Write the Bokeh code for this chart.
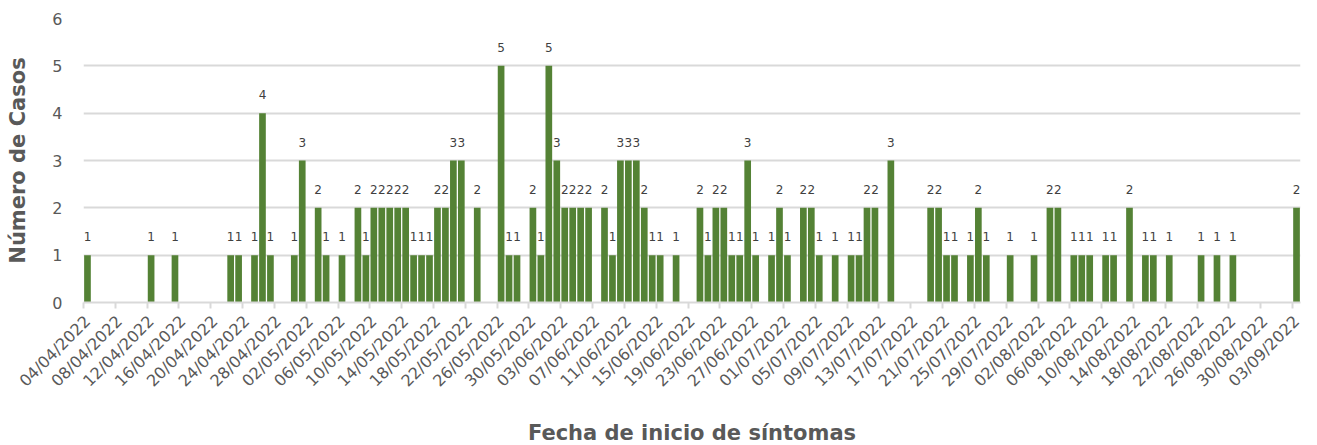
import math
import pandas as pd
from bokeh.plotting import figure
from bokeh.models import ColumnDataSource, FixedTicker, LabelSet, Range1d
from bokeh.core.properties import value
from bokeh.embed import file_html
from bokeh.resources import INLINE

start_date = "04/04/2022"
end_date = "03/09/2022"

dates = [
    "04/04/2022", "12/04/2022", "15/04/2022", "22/04/2022", "23/04/2022", "25/04/2022",
    "26/04/2022", "27/04/2022", "30/04/2022", "01/05/2022", "03/05/2022", "04/05/2022",
    "06/05/2022", "08/05/2022", "09/05/2022", "10/05/2022", "11/05/2022", "12/05/2022",
    "13/05/2022", "14/05/2022", "15/05/2022", "16/05/2022", "17/05/2022", "18/05/2022",
    "19/05/2022", "20/05/2022", "21/05/2022", "23/05/2022", "26/05/2022", "27/05/2022",
    "28/05/2022", "30/05/2022", "31/05/2022", "01/06/2022", "02/06/2022", "03/06/2022",
    "04/06/2022", "05/06/2022", "06/06/2022", "08/06/2022", "09/06/2022", "10/06/2022",
    "11/06/2022", "12/06/2022", "13/06/2022", "14/06/2022", "15/06/2022", "17/06/2022",
    "20/06/2022", "21/06/2022", "22/06/2022", "23/06/2022", "24/06/2022", "25/06/2022",
    "26/06/2022", "27/06/2022", "29/06/2022", "30/06/2022", "01/07/2022", "03/07/2022",
    "04/07/2022", "05/07/2022", "07/07/2022", "09/07/2022", "10/07/2022", "11/07/2022",
    "12/07/2022", "14/07/2022", "19/07/2022", "20/07/2022", "21/07/2022", "22/07/2022",
    "24/07/2022", "25/07/2022", "26/07/2022", "29/07/2022", "01/08/2022", "03/08/2022",
    "04/08/2022", "06/08/2022", "07/08/2022", "08/08/2022", "10/08/2022", "11/08/2022",
    "13/08/2022", "15/08/2022", "16/08/2022", "18/08/2022", "22/08/2022", "24/08/2022",
    "26/08/2022", "03/09/2022",
]
cases = [
    1, 1, 1, 1, 1, 1,
    4, 1, 1, 3, 2, 1,
    1, 2, 1, 2, 2, 2,
    2, 2, 1, 1, 1, 2,
    2, 3, 3, 2, 5, 1,
    1, 2, 1, 5, 3, 2,
    2, 2, 2, 2, 1, 3,
    3, 3, 2, 1, 1, 1,
    2, 1, 2, 2, 1, 1,
    3, 1, 1, 2, 1, 2,
    2, 1, 1, 1, 1, 2,
    2, 3, 2, 2, 1, 1,
    1, 2, 1, 1, 1, 2,
    2, 1, 1, 1, 1, 1,
    2, 1, 1, 1, 1, 1,
    1, 2,
]

tick_labels = [
    "04/04/2022", "08/04/2022", "12/04/2022", "16/04/2022", "20/04/2022", "24/04/2022",
    "28/04/2022", "02/05/2022", "06/05/2022", "10/05/2022", "14/05/2022", "18/05/2022",
    "22/05/2022", "26/05/2022", "30/05/2022", "03/06/2022", "07/06/2022", "11/06/2022",
    "15/06/2022", "19/06/2022", "23/06/2022", "27/06/2022", "01/07/2022", "05/07/2022",
    "09/07/2022", "13/07/2022", "17/07/2022", "21/07/2022", "25/07/2022", "29/07/2022",
    "02/08/2022", "06/08/2022", "10/08/2022", "14/08/2022", "18/08/2022", "22/08/2022",
    "26/08/2022", "30/08/2022", "03/09/2022",
]

FONT = "DejaVu Sans"
GREY = "#595959"

t0 = pd.to_datetime(start_date, format="%d/%m/%Y")
t1 = pd.to_datetime(end_date, format="%d/%m/%Y")
n_days = (t1 - t0).days

day_x = [(pd.to_datetime(d, format="%d/%m/%Y") - t0).days for d in dates]
tick_x = [(pd.to_datetime(d, format="%d/%m/%Y") - t0).days for d in tick_labels]

src = ColumnDataSource(dict(x=day_x, y=cases, lab=[str(c) for c in cases]))

p = figure(frame_width=1217, frame_height=284, output_backend="svg", toolbar_location=None,
           x_range=Range1d(-0.5, n_days + 0.5), y_range=Range1d(0, 6),
           min_border_left=83, min_border_right=17, min_border_top=18, min_border_bottom=20)
p.outline_line_color = None
p.background_fill_color = "white"
p.border_fill_color = "white"

p.vbar(x="x", top="y", width=0.84, source=src, fill_color="#548235", line_color=None)

labels = LabelSet(x="x", y="y", text="lab", source=src, y_offset=14,
                  text_align="center", text_baseline="bottom",
                  text_font_size="12px", text_color="#404040", text_font=value(FONT))
p.add_layout(labels)

# x axis
p.xaxis.ticker = FixedTicker(ticks=tick_x,
                             minor_ticks=[v - 0.5 for v in tick_x])
p.xaxis.major_label_overrides = {x: s for x, s in zip(tick_x, tick_labels)}
p.xaxis.major_label_orientation = math.pi / 4
p.xaxis.major_tick_line_color = None
p.xaxis.major_tick_out = 6
p.xaxis.major_tick_in = 0
p.xaxis.minor_tick_line_color = "#d9d9d9"
p.xaxis.minor_tick_line_width = 2
p.xaxis.minor_tick_out = 6
p.xaxis.minor_tick_in = 0
p.xaxis.axis_line_color = "#d9d9d9"
p.xaxis.axis_line_width = 2
p.xaxis.major_label_text_font = FONT
p.xaxis.major_label_text_font_size = "16px"
p.xaxis.major_label_text_color = GREY
p.xaxis.major_label_standoff = 10
p.xaxis.axis_label = "Fecha de inicio de síntomas"
p.xaxis.axis_label_text_font = FONT
p.xaxis.axis_label_text_font_size = "21px"
p.xaxis.axis_label_text_font_style = "bold"
p.xaxis.axis_label_text_color = GREY
p.xaxis.axis_label_standoff = 21
p.xgrid.grid_line_color = None

# y axis
p.yaxis.ticker = FixedTicker(ticks=[0, 1, 2, 3, 4, 5, 6])
p.yaxis.axis_line_color = None
p.yaxis.major_tick_line_color = None
p.yaxis.major_tick_out = 0
p.yaxis.minor_tick_line_color = None
p.yaxis.major_label_text_font = FONT
p.yaxis.major_label_text_font_size = "16px"
p.yaxis.major_label_text_color = GREY
p.yaxis.major_label_standoff = 21
p.yaxis.axis_label = "Número de Casos"
p.yaxis.axis_label_text_font = FONT
p.yaxis.axis_label_text_font_size = "21px"
p.yaxis.axis_label_text_font_style = "bold"
p.yaxis.axis_label_text_color = GREY
p.yaxis.axis_label_standoff = 19
p.ygrid.grid_line_color = "#d9d9d9"
p.ygrid.grid_line_width = 2

open("out.html", "w").write(file_html(p, INLINE))
